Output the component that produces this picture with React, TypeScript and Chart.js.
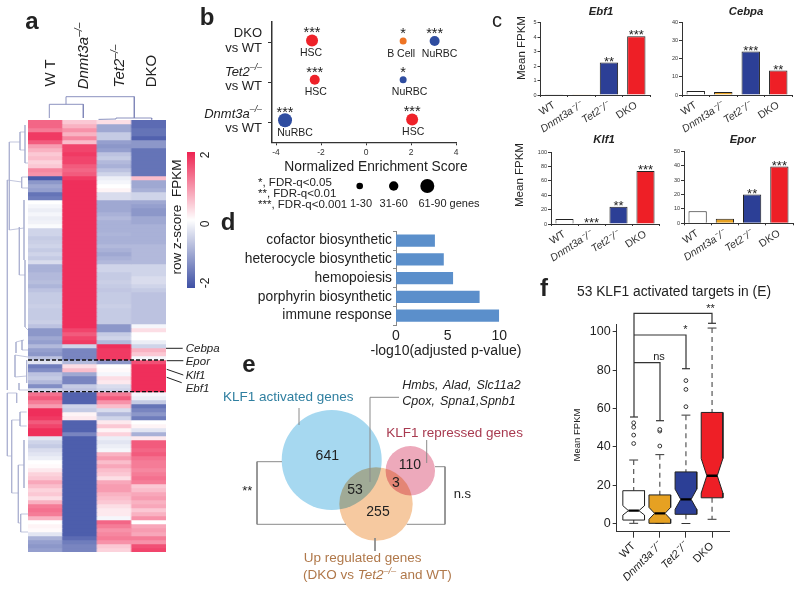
import React, { useEffect, useRef } from "react";
import { Chart, registerables } from "chart.js";
Chart.register(...registerables);

const FONT = "'Liberation Sans', Arial, sans-serif";
Chart.defaults.font.family = FONT;
Chart.defaults.animation = false as any;
Chart.defaults.plugins.legend.display = false;
Chart.defaults.plugins.tooltip.enabled = false;

// ---------- panel a: heatmap ----------
const heatColumns = ["WT", "Dnmt3a", "Tet2", "DKO"];
const heatWT = [1.4,1.4,1.2,1.8,1.8,1.5,.9,.7,.5,.6,.4,.5,1.1,1.0,-1.9,-1.2,-1.0,-1.1,-1.6,-1.5,0,-.1,-.2,-.1,-.2,-.15,-.05,-.5,-.5,-.6,-.55,-.5,-.6,-.5,-.6,-.4,-.9,-.9,-.8,-.8,-.75,-.85,-.7,-.6,-.6,-.6,-.55,-.6,-.6,-.6,-.55,-.7,-1.2,-1.2,-1.0,-1.1,-.8,-1.1,-1.2,-.7,-.3,-1.5,-1.3,-.7,-.6,-.8,-1.3,-.5,1.3,1.5,1.2,.9,1.9,1.9,1.8,1.5,1.7,1.9,1.9,-.3,-.5,-.6,-.4,-.3,-.2,0,.05,.2,.4,.5,.8,.6,.4,.5,.3,.7,1.2,1.3,1.2,.7,0,.1,.05,-.3,-.9,-1.1,-1.2,-1.1];
const heatDnmt3a = [.5,.7,1.0,.7,1.1,.6,1.7,1.7,1.8,1.7,1.7,1.5,1.4,1.5,1.8,1.9,1.9,1.9,1.9,1.9,1.9,1.9,1.9,1.9,1.9,1.9,1.9,1.9,1.9,1.9,1.9,1.9,1.9,1.9,1.9,1.9,1.9,1.9,1.9,1.9,1.9,1.9,1.9,1.9,1.9,1.9,1.9,1.9,1.9,1.9,1.9,1.9,1.7,1.5,1.7,1.8,-.5,-1.4,-1.4,-1.4,-.8,.3,.6,-1.0,-1.4,-1.4,-.6,-.7,-1.8,-1.8,-1.8,-.5,-.6,.1,.2,-1.8,-1.8,-1.8,-1.4,-1.85,-1.85,-1.85,-1.85,-1.85,-1.85,-1.85,-1.85,-1.85,-1.85,-1.85,-1.85,-1.85,-1.85,-1.85,-1.85,-1.85,-1.85,-1.85,-1.85,-1.85,-1.85,-1.85,-1.85,-1.85,-1.7,-1.5,-1.4,-1.4];
const heatTet2 = [.3,-1.0,-1.0,-.6,-.6,-1.1,-1.2,-1.1,-.7,-.6,-.8,-.9,-.7,-.5,-.2,-.1,0,.1,-.4,-.4,-1.0,-1.0,-1.0,-.9,-.8,-.9,-.9,-.9,-.85,-.9,-.9,-.8,-.9,-1.0,-.9,-.8,-.5,-.5,-.6,-.6,-.55,-.6,-.65,-.6,-.6,-.6,-.55,-.6,-.6,-.6,-.6,-1.2,-1.2,-.6,-.5,-.8,1.9,1.8,1.8,1.8,-1.2,0,.05,-.1,.3,.2,-.4,-.5,1.2,1.5,1.0,.6,-.4,-.8,-.5,.2,.5,.1,.4,-.2,-.3,-.2,-.1,.7,.9,.6,.8,.6,.5,.3,.8,.9,.9,.7,.6,.5,.3,.2,.2,-.1,1.4,1.2,1.0,1.1,1.2,1.0,.5,.4];
const heatDKO = [-1.7,-1.7,-1.6,-1.6,-1.8,-1.2,-1.2,-1.6,-1.6,-1.6,-1.6,-1.6,-1.6,-1.6,.6,-1.0,-1.0,-.9,-.5,-.5,-1.0,-1.1,-1.2,-1.2,-1.0,-1.0,-.9,-.9,-.9,-.9,-.9,-.8,-.8,-.8,-.8,-.8,-.5,-.5,-.5,-.4,-.4,-.5,-.6,-.7,-.7,-.7,-.7,-.7,-.7,-.7,-.7,-.1,.3,0,0,-.2,-.5,.7,.5,-.1,1.6,1.9,1.9,1.9,1.9,1.9,1.9,1.9,-.1,-.2,-.6,-1.6,-1.4,-1.2,-1.5,0,.1,-.3,-.9,.2,1.5,1.5,1.4,1.5,1.3,1.2,1.2,1.1,1.2,1.3,1.2,.5,.6,.8,.9,.7,.8,.5,.7,1.0,0,.8,.9,.8,1.2,1.0,1.6,1.7];

function zColor(z: number) {
  const blue = [63, 81, 165], white = [255, 255, 255], red = [238, 36, 82];
  const t = Math.min(1, Math.abs(z) / 2);
  const end = z < 0 ? blue : red;
  return `rgb(${white.map((w, i) => Math.round(w + (end[i] - w) * t)).join(",")})`;
}

// ---------- panel b: enrichment bubbles ----------
const enrichScores = [-2.4, 1.65, 3.05, -2.28, 1.65, -3.6, 2.05];
const enrichRows = [0.46, 0.475, 0.475, 1.44, 1.44, 2.45, 2.43];
const enrichSizes = [6, 3.5, 5, 5, 3.5, 7, 6];
const enrichSets = ["HSC", "B Cell", "NuRBC", "HSC", "NuRBC", "NuRBC", "HSC"];
const enrichStars = ["***", "*", "***", "***", "*", "***", "***"];
const enrichColors = ["#ee2229", "#ee7424", "#2f4da0", "#ee2229", "#2f4da0", "#2f4da0", "#ee2229"];
const enrichLabelShift = [-1, -2, 5, 1, 6.5, 10, 1];

// ---------- panel c: bars ----------
const genotypes = ["WT", "Dnmt3a⁻/⁻", "Tet2⁻/⁻", "DKO"];
const genotypeColors = ["#ffffff", "#e6a122", "#2c3f96", "#ee1f26"];
const ebf1Values = [0.05, 0.01, 2.25, 4.07];
const ebf1Stars = ["", "", "**", "***"];
const cebpaValues = [2.2, 1.7, 24, 13.5];
const cebpaStars = ["", "", "***", "**"];
const klf1Values = [7, 0.5, 24, 73.5];
const klf1Stars = ["", "***", "**", "***"];
const eporValues = [8.3, 3.1, 20, 39.5];
const eporStars = ["", "", "**", "***"];

// ---------- panel d: GO terms ----------
const goTerms = ["cofactor biosynthetic", "heterocycle biosynthetic", "hemopoiesis", "porphyrin biosynthetic", "immune response"];
const goValues = [3.77, 4.63, 5.53, 8.1, 10];

// ---------- panel f: box plot ----------
const boxQ1 = [1.9, 0.2, 4.9, 13.5];
const boxQ3 = [17.2, 15, 27, 58];
const boxMedian = [6.8, 5.4, 12.7, 25];
const boxNotchLow = [4.5, 2.3, 7.5, 16];
const boxNotchHigh = [9.4, 8.5, 18, 34];
const boxWhiskerLow = [0.2, 0.1, 0.1, 2.3];
const boxWhiskerHigh = [33.2, 36, 56.6, 102];
const boxOutliers = [[41.8, 46.2, 50.3, 52.6], [40.5, 48.3, 49.1], [61, 70, 74.6], []];

// ---------- decorative lines (page pixels) ----------
const topDendrogram = [
  [[49.3, 118], [49.3, 104.3], [83.3, 104.3], [83.3, 118]],
  [[66, 104.3], [66, 96.7], [134.3, 96.7], [134.3, 118]],
  [[98.5, 119.4], [116, 119], [116, 118], [151.7, 118], [151.7, 119.5]],
];
const leftDendrogram = [
  [[25, 125], [25, 163], [28, 163]], [[20, 132], [20, 150], [25, 150]], [[20, 132], [25, 132]],
  [[9.3, 142], [9.3, 230], [24, 228]], [[9.3, 142], [20, 142]],
  [[21.7, 177], [21.7, 188], [28, 188]], [[21.7, 177], [28, 177]], [[7.3, 180], [7.3, 390]], [[7.3, 180], [21.7, 182]],
  [[24, 200], [24, 260]], [[19.3, 227], [19.3, 275], [25, 275]], [[25, 260], [25, 327], [28, 330]],
  [[16, 342], [16, 353]], [[16, 342], [24, 340]], [[22, 340], [22, 350], [28, 350]],
  [[15, 355], [15, 377], [26.7, 376]], [[15, 355], [28, 357]], [[26.7, 360], [26.7, 383]],
  [[19, 383], [19, 390], [28, 390]], [[7.3, 393], [7.3, 456], [11.7, 456]], [[7.3, 393], [16.7, 393], [16.7, 403]],
  [[11.7, 420], [11.7, 493], [18.3, 493]], [[11.7, 420], [20, 420]], [[20, 412], [20, 426]],
  [[20, 412], [26.7, 412]], [[20, 426], [26.7, 426]], [[18.3, 465], [18.3, 523], [20.7, 523]], [[18.3, 465], [24, 465]],
  [[24, 440], [24, 488]], [[20.7, 514], [20.7, 532]], [[20.7, 514], [28, 514]], [[20.7, 532], [28, 532]],
];
const geneLeaders = [
  [[166, 348.3], [182.7, 348.3]], [[166.7, 360.7], [183.3, 360.7]],
  [[166.7, 369.3], [183.3, 375]], [[166.7, 377.3], [181.7, 382.7]],
];
const heatDashes = [[[28, 360], [166, 360]], [[28, 391.7], [166, 391.7]]];
const vennBrackets = [
  [[282, 461.7], [257, 461.7], [257, 524.3], [346, 524.3]],
  [[435, 466.7], [445, 466.7], [445, 524.3], [406.7, 524.3]],
  [[299, 425], [299, 408]],
  [[370, 482], [370, 397.3], [399, 397.3]],
  [[426.7, 463], [426.7, 440]],
  [[375, 538], [375, 551]],
];
const boxBrackets = [
  [[634, 417], [634, 313.3], [712, 313.3], [712, 323.3]],
  [[634, 335], [686, 335], [686, 368.7]],
  [[634, 362.7], [660, 362.7], [660, 420.7]],
  [[630, 417], [638, 417]], [[708, 323.3], [716, 323.3]],
  [[682, 368.7], [690, 368.7]], [[656, 420.7], [664, 420.7]],
];

// Venn and size key: centre and radius in page pixels
const vennCircles = [
  { x: 331.7, y: 460, r: 50, c: "#a6d8f0" },
  { x: 410.3, y: 470.7, r: 24.7, c: "#eda9bb" },
  { x: 376, y: 504, r: 36.7, c: "#f6c9a0" },
];
const sizeKey = [
  { x: 359.7, y: 186, r: 3.3 },
  { x: 393.7, y: 186, r: 4.7 },
  { x: 427.3, y: 186, r: 7 },
];

// ---------- helpers ----------
const notesPlugin = {
  id: "notes",
  afterDatasetsDraw(chart: any, _a: any, o: any) {
    if (!o.above && !o.below) return;
    const { ctx } = chart;
    chart.getDatasetMeta(0).data.forEach((el: any, i: number) => {
      const p = el.getProps(["x", "y"], true);
      ctx.save();
      ctx.fillStyle = "#222";
      ctx.textAlign = "center";
      ctx.textBaseline = "alphabetic";
      if (o.above?.[i]) {
        ctx.font = `${o.aboveSize}px ${FONT}`;
        ctx.fillText(o.above[i], p.x, p.y - o.aboveGap);
      }
      if (o.below?.[i]) {
        ctx.font = `${o.belowSize}px ${FONT}`;
        ctx.fillText(o.below[i], p.x + (o.belowShift?.[i] || 0), p.y + o.belowGap);
      }
      ctx.restore();
    });
  },
};

// the third Venn circle overlaps the others like printed ink
const multiplyLastPlugin = {
  id: "multiplyLast",
  beforeDatasetDraw(chart: any, args: any) {
    if (args.index === chart.data.datasets.length - 1) chart.ctx.globalCompositeOperation = "multiply";
  },
  afterDatasetDraw(chart: any) {
    chart.ctx.globalCompositeOperation = "source-over";
  },
};

type Box = [number, number, number, number];
function Panel({ box, area, config }: { box: Box; area?: Box; config: () => any }) {
  const ref = useRef<HTMLCanvasElement>(null);
  useEffect(() => {
    const cfg = config();
    cfg.options = cfg.options || {};
    cfg.options.responsive = false;
    cfg.options.animation = false;
    cfg.options.layout = { autoPadding: false, padding: 0 };
    if (area) {
      const [l, t, r] = area;
      const b = area[3];
      cfg.options.layout.padding = { left: 0, top: t - box[1], right: box[0] + box[2] - r, bottom: 0 };
      cfg.options.scales.x.afterFit = (s: any) => { s.height = box[1] + box[3] - b; };
      cfg.options.scales.y.afterFit = (s: any) => { s.width = l - box[0]; };
    }
    const chart = new Chart(ref.current!, cfg);
    return () => chart.destroy();
  }, []);
  return (
    <canvas ref={ref} width={box[2]} height={box[3]}
      style={{ position: "absolute", left: box[0], top: box[1], width: box[2], height: box[3] }} />
  );
}

function T({ x, y, s = 13, r = 0, a = "c", b = false, i = false, c = "#222", ws = 0, children }: any) {
  const tx = a === "c" ? "-50%" : a === "r" ? "-100%" : "0";
  return (
    <div style={{
      position: "absolute", left: x, top: y, transform: `translate(${tx},-50%) rotate(${r}deg)`,
      fontFamily: FONT, fontSize: s, fontWeight: b ? 700 : 400, fontStyle: i ? "italic" : "normal",
      color: c, whiteSpace: "pre", lineHeight: 1, zIndex: 5, wordSpacing: ws,
    }}>{children}</div>
  );
}
const Sup = () => <sup style={{ fontSize: "0.68em", lineHeight: 0, fontStyle: "italic" }}>–/–</sup>;

// ---------- chart configs ----------
const heatConfig = () => ({
  type: "bar",
  data: {
    labels: heatColumns,
    datasets: heatWT.map((_, i) => ({
      label: `row ${i + 1}`,
      data: heatColumns.map(() => 1),
      backgroundColor: [heatWT[i], heatDnmt3a[i], heatTet2[i], heatDKO[i]].map(zColor),
      borderWidth: 0,
      barPercentage: 1,
      categoryPercentage: 1,
    })),
  },
  options: {
    scales: {
      x: { display: false, stacked: true },
      y: { display: false, stacked: true, reverse: true, min: 0, max: heatWT.length },
    },
  },
});

const colorBarConfig = () => ({
  type: "bar",
  data: {
    labels: ["z"],
    datasets: [{
      data: [[-2, 2]],
      barPercentage: 1,
      categoryPercentage: 1,
      borderWidth: 0,
      backgroundColor: (ctx: any) => {
        const { chartArea, ctx: g } = ctx.chart;
        if (!chartArea) return "#fff";
        const grad = g.createLinearGradient(0, chartArea.top, 0, chartArea.bottom);
        grad.addColorStop(0, zColor(2));
        grad.addColorStop(0.5, zColor(0));
        grad.addColorStop(1, zColor(-2));
        return grad;
      },
    }],
  },
  options: {
    scales: { x: { display: false }, y: { display: false, min: -2, max: 2 } },
  },
});

const enrichConfig = () => ({
  type: "bubble",
  data: {
    datasets: [{
      data: enrichScores.map((x, i) => ({ x, y: enrichRows[i], r: enrichSizes[i] })),
      backgroundColor: enrichColors,
      borderWidth: 0,
    }],
  },
  plugins: [notesPlugin],
  options: {
    clip: false,
    plugins: {
      notes: { above: enrichStars, below: enrichSets, belowShift: enrichLabelShift, aboveSize: 14.5, aboveGap: 3.2, belowSize: 10.5, belowGap: 15.7 },
    },
    scales: {
      x: {
        type: "linear", min: -4.18, max: 4,
        afterBuildTicks: (s: any) => { s.ticks = [-4, -2, 0, 2, 4].map((value) => ({ value })); },
        grid: { drawOnChartArea: false, tickLength: 3, color: "#333" },
        border: { color: "#333", width: 1.3 },
        ticks: { font: { size: 8.5 }, color: "#333", padding: 2, maxRotation: 0, autoSkip: false },
      },
      y: {
        type: "linear", min: 0, max: 3, reverse: true,
        afterBuildTicks: (s: any) => { s.ticks = [0.5, 1.5, 2.5].map((value) => ({ value })); },
        grid: { drawOnChartArea: false, tickLength: 4, color: "#333" },
        border: { color: "#333", width: 1.5 },
        ticks: { display: false },
      },
    },
  },
});

const barConfig = (values: number[], stars: string[], max: number, step: number) => () => ({
  type: "bar",
  data: {
    labels: genotypes,
    datasets: [{
      data: values,
      backgroundColor: genotypeColors,
      borderColor: "#222",
      borderWidth: 1,
      barPercentage: 0.67,
      categoryPercentage: 1,
    }],
  },
  plugins: [notesPlugin],
  options: {
    plugins: { notes: { above: stars, aboveSize: 13, aboveGap: -3.2 } },
    scales: {
      x: {
        grid: { drawOnChartArea: false, tickLength: 2, color: "#333" },
        border: { color: "#333", width: 1 },
        ticks: {
          minRotation: 33, maxRotation: 33, autoSkip: false, padding: 2, color: "#333",
          font: (c: any) => ({ size: 10.5, style: c.index === 1 || c.index === 2 ? "italic" : "normal" }),
        },
      },
      y: {
        min: 0, max,
        grid: { drawOnChartArea: false, tickLength: 3, color: "#333" },
        border: { color: "#333", width: 1 },
        ticks: { stepSize: step, font: { size: 5.5 }, color: "#333", padding: 1 },
      },
    },
  },
});

const goConfig = () => ({
  type: "bar",
  data: {
    labels: goTerms,
    datasets: [{ data: goValues, backgroundColor: "#5b8fcb", barPercentage: 0.66, categoryPercentage: 1 }],
  },
  options: {
    indexAxis: "y",
    scales: {
      x: {
        min: 0, max: 10,
        grid: { display: false, drawTicks: false },
        border: { display: false },
        ticks: { stepSize: 5, font: { size: 14 }, color: "#222", padding: 3 },
      },
      y: {
        grid: { drawOnChartArea: false, offset: true, tickLength: 3, color: "#888" },
        border: { color: "#888", width: 1 },
        ticks: { font: { size: 13.8 }, color: "#222", padding: 1, autoSkip: false },
      },
    },
  },
});

const HALF = 0.415, NOTCH = 0.2, CAP = 0.17;
const boxConfig = () => {
  const datasets: any[] = [];
  genotypes.forEach((_, g) => {
    const [q1, q3, m, nl, nh] = [boxQ1[g], boxQ3[g], boxMedian[g], boxNotchLow[g], boxNotchHigh[g]];
    const lineSet = (pts: number[][], extra: any) => ({
      data: pts.map(([x, y]) => ({ x, y })), showLine: true, pointRadius: 0, borderColor: "#333", borderWidth: 1, ...extra,
    });
    datasets.push(lineSet([[g, boxWhiskerHigh[g]], [g, q3]], { borderDash: [5, 4], order: 5, borderColor: "#555", borderWidth: 1.2 }));
    datasets.push(lineSet([[g, q1], [g, boxWhiskerLow[g]]], { borderDash: [5, 4], order: 5, borderColor: "#555", borderWidth: 1.2 }));
    datasets.push(lineSet([[g - CAP, boxWhiskerHigh[g]], [g + CAP, boxWhiskerHigh[g]]], { order: 5 }));
    datasets.push(lineSet([[g - CAP, boxWhiskerLow[g]], [g + CAP, boxWhiskerLow[g]]], { order: 5 }));
    datasets.push(lineSet(
      [[g - HALF, q1], [g - HALF, nl], [g - NOTCH, m], [g - HALF, nh], [g - HALF, q3], [g + HALF, q3],
       [g + HALF, nh], [g + NOTCH, m], [g + HALF, nl], [g + HALF, q1], [g - HALF, q1]],
      { fill: "shape", backgroundColor: genotypeColors[g], order: 3, tension: 0, borderColor: "#222" },
    ));
    datasets.push(lineSet([[g - NOTCH, m], [g + NOTCH, m]], { borderColor: "#000", borderWidth: 2.4, order: 1 }));
    datasets.push({
      data: boxOutliers[g].map((y) => ({ x: g, y })),
      pointRadius: 1.9, pointBackgroundColor: "#fff", pointBorderColor: "#333", pointBorderWidth: 1, order: 2,
    });
  });
  return {
    type: "scatter",
    data: { datasets },
    options: {
      scales: {
        x: {
          type: "linear", min: -0.65, max: 3.66,
          afterBuildTicks: (s: any) => { s.ticks = [0, 1, 2, 3].map((value) => ({ value })); },
          grid: { drawOnChartArea: false, tickLength: 6, color: "#333" },
          border: { color: "#333", width: 1 },
          ticks: {
            minRotation: 45, maxRotation: 45, autoSkip: false, padding: 2, color: "#222",
            callback: (v: number) => genotypes[v],
            font: (c: any) => ({ size: 11, style: c.index === 1 || c.index === 2 ? "italic" : "normal" }),
          },
        },
        y: {
          type: "linear", min: -4.17, max: 103.85,
          afterBuildTicks: (s: any) => { s.ticks = [0, 20, 40, 60, 80, 100].map((value) => ({ value })); },
          grid: { drawOnChartArea: false, tickLength: 4, color: "#333" },
          border: { color: "#333", width: 1 },
          ticks: { font: { size: 12.5 }, color: "#222", padding: 2 },
        },
      },
    },
  };
};

const pageScales = {
  x: { display: false, type: "linear", min: 0, max: 800 },
  y: { display: false, type: "linear", min: 0, max: 592, reverse: true },
};
const vennConfig = () => ({
  type: "bubble",
  data: {
    datasets: vennCircles.map((v, i) => ({
      data: [{ x: v.x, y: v.y, r: v.r }], backgroundColor: v.c, borderWidth: 0, order: vennCircles.length - i,
    })),
  },
  plugins: [multiplyLastPlugin],
  options: { scales: pageScales },
});

const lineGroup = (lines: number[][][], color: string, width: number, dash: number[] = []) =>
  lines.map((pts) => ({
    type: "scatter", showLine: true, pointRadius: 0, borderColor: color, borderWidth: width, borderDash: dash,
    data: pts.map(([x, y]) => ({ x, y })),
  }));
const overlayConfig = () => ({
  type: "scatter",
  data: {
    datasets: [
      ...lineGroup(topDendrogram, "#7f86b8", 0.9),
      ...lineGroup(leftDendrogram, "#a8adcf", 0.7),
      ...lineGroup(geneLeaders, "#222", 1),
      ...lineGroup(heatDashes, "#111", 1.3, [4, 2]),
      ...lineGroup(vennBrackets, "#8a8a8a", 1),
      ...lineGroup(boxBrackets, "#333", 1.2),
      { type: "bubble", data: sizeKey, backgroundColor: "#000", borderWidth: 0 },
    ],
  },
  options: { clip: false, scales: pageScales },
});

export default function App() {
  return (
    <div style={{ position: "absolute", left: 0, top: 0, width: 800, height: 592, overflow: "hidden", background: "#fff" }}>
      <Panel box={[28.3, 120, 137.4, 432]} config={heatConfig} />
      <Panel box={[187.3, 152.3, 7.7, 135.7]} config={colorBarConfig} />
      <Panel box={[230, 15, 240, 150]} area={[272, 22, 456, 142.3]} config={enrichConfig} />
      <Panel box={[515, 12, 140, 128]} area={[540.5, 22.7, 650, 95]} config={barConfig(ebf1Values, ebf1Stars, 5, 1)} />
      <Panel box={[660, 12, 140, 128]} area={[682, 22.7, 792, 95]} config={barConfig(cebpaValues, cebpaStars, 40, 10)} />
      <Panel box={[525, 143, 140, 128]} area={[551, 152, 659, 224]} config={barConfig(klf1Values, klf1Stars, 100, 20)} />
      <Panel box={[660, 143, 140, 128]} area={[684, 151.3, 793, 223.3]} config={barConfig(eporValues, eporStars, 50, 10)} />
      <Panel box={[235, 222, 275, 122]} area={[396, 228, 500.3, 325]} config={goConfig} />
      <Panel box={[0, 0, 800, 592]} config={vennConfig} />
      <Panel box={[585, 315, 155, 275]} area={[616.7, 324.3, 729.3, 531.7]} config={boxConfig} />
      <Panel box={[0, 0, 800, 592]} config={overlayConfig} />

      <T x={32} y={21} s={24} b>a</T>
      <T x={207} y={17} s={24} b>b</T>
      <T x={497} y={20} s={20}>c</T>
      <T x={228} y={222} s={24} b>d</T>
      <T x={249} y={364} s={24} b>e</T>
      <T x={544} y={288} s={24} b>f</T>

      <T x={49} y={73} s={15} r={-90}>W T</T>
      <T x={82} y={55.5} s={15} r={-90} i>Dnmt3a<Sup /></T>
      <T x={118} y={65.5} s={15} r={-90} i>Tet2<Sup /></T>
      <T x={150} y={71} s={15} r={-90}>DKO</T>

      <T x={177} y={217} s={13.5} r={-90}>{"row z-score  FPKM"}</T>
      <T x={205} y={155} s={12} r={-90}>2</T>
      <T x={205} y={224} s={12} r={-90}>0</T>
      <T x={205} y={283} s={12} r={-90}>-2</T>

      <T x={185.7} y={349.3} s={11.5} a="l" i>Cebpa</T>
      <T x={185.7} y={362.3} s={11.5} a="l" i>Epor</T>
      <T x={185.7} y={375.7} s={11.5} a="l" i>Klf1</T>
      <T x={185.7} y={389} s={11.5} a="l" i>Ebf1</T>

      <T x={262} y={32} a="r">DKO</T>
      <T x={262} y={46.7} a="r">vs WT</T>
      <T x={262} y={70.7} a="r" i>Tet2<Sup /></T>
      <T x={262} y={85} a="r">vs WT</T>
      <T x={262} y={113} a="r" i>Dnmt3a<Sup /></T>
      <T x={262} y={127} a="r">vs WT</T>
      <T x={376} y={167} s={13.8}>Normalized Enrichment Score</T>
      <T x={258} y={183} s={11.5} a="l">*, FDR-q&lt;0.05</T>
      <T x={258} y={194} s={11.5} a="l">**, FDR-q&lt;0.01</T>
      <T x={258} y={204.5} s={11.5} a="l">***, FDR-q&lt;0.001</T>
      <T x={361} y={203} s={11}>1-30</T>
      <T x={393.7} y={203} s={11}>31-60</T>
      <T x={449} y={203} s={11}>61-90 genes</T>

      <T x={601} y={12} s={11.3} b i>Ebf1</T>
      <T x={746} y={12} s={11.3} b i>Cebpa</T>
      <T x={604} y={140} s={11.3} b i>Klf1</T>
      <T x={742.7} y={140} s={11.3} b i>Epor</T>
      <T x={522} y={48.3} s={11.5} r={-90}>Mean FPKM</T>
      <T x={520} y={174.7} s={11.5} r={-90}>Mean FPKM</T>

      <T x={446} y={350} s={14}>-log10(adjusted p-value)</T>

      <T x={223} y={397.3} s={13.5} a="l" c="#2f7fa0">KLF1 activated genes</T>
      <T x={386.3} y={433.3} s={13.5} a="l" c="#a83a50">KLF1 repressed genes</T>
      <T x={402.3} y={385} s={12.5} ws={1.5} a="l" i>Hmbs, Alad, Slc11a2</T>
      <T x={402.3} y={400.7} s={12.5} ws={1.5} a="l" i>Cpox, Spna1,Spnb1</T>
      <T x={327.3} y={455} s={14}>641</T>
      <T x={355} y={488.7} s={14}>53</T>
      <T x={410} y={464.3} s={14}>110</T>
      <T x={396} y={482} s={14}>3</T>
      <T x={378} y={511} s={14}>255</T>
      <T x={247.3} y={490} s={13}>**</T>
      <T x={462.3} y={492.7} s={13}>n.s</T>
      <T x={362.7} y={557.7} s={13.5} c="#b0784a">Up regulated genes</T>
      <T x={377.3} y={575} s={13.5} c="#b0784a">(DKO vs <span style={{ fontStyle: "italic" }}>Tet2<Sup /></span> and WT)</T>

      <T x={674} y={292} s={13.8}>53 KLF1 activated targets in (E)</T>
      <T x={577} y={435} s={9.5} r={-90}>Mean FPKM</T>
      <T x={710.5} y={308} s={11}>**</T>
      <T x={685.5} y={329} s={11}>*</T>
      <T x={659} y={356} s={11}>ns</T>
    </div>
  );
}
